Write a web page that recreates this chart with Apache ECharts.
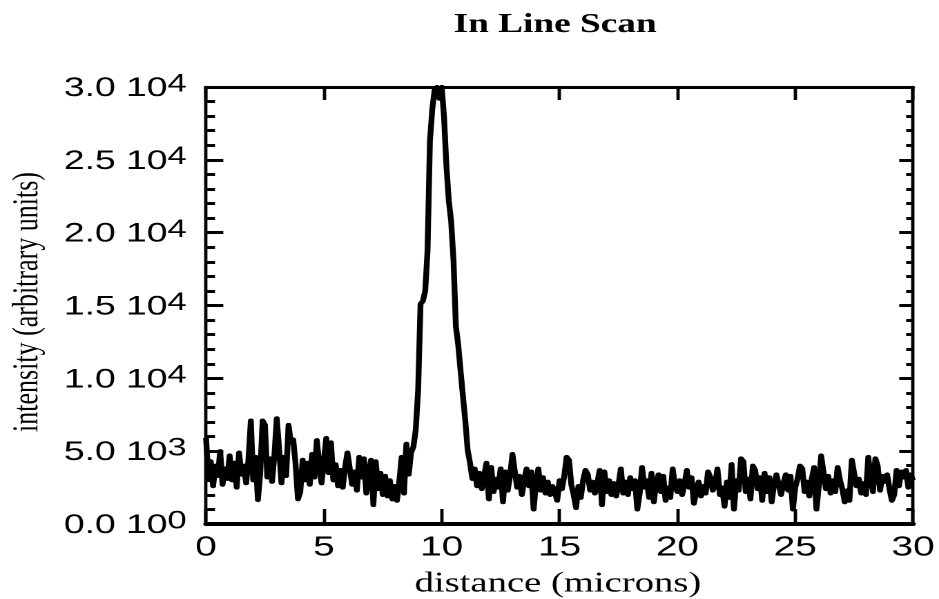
<!DOCTYPE html>
<html>
<head>
<meta charset="utf-8">
<title>In Line Scan</title>
<script src="https://cdn.jsdelivr.net/npm/echarts@6/dist/echarts.min.js"></script>
<style>
  html, body { margin: 0; padding: 0; background: #fff; overflow: hidden; }
  /* the original figure is stretched sideways, so the chart is drawn narrow and widened */
  #chart { width: 680px; height: 599px; transform: scaleX(1.3809); transform-origin: 0 0; }
</style>
</head>
<body>
<div id="chart"></div>
<script>
// sampling of the scan (microns)
const distanceStart = 0;
const distanceStep = 0.1;

// intensity, one value per 0.1 micron, 0 .. 30
const intensity = [
  5900, 3200, 4300, 2600, 4000, 3300, 5000, 2700, 3800, 3100,
  4700, 3000, 4200, 2500, 4900, 3400, 4000, 2800, 4400, 7100,
  3000, 4600, 1650, 3500, 7100, 6800, 3200, 4500, 2900, 4700,
  7250, 5200, 2800, 4600, 3300, 6800, 5600, 5800, 4100, 1700,
  2200, 4400, 3000, 4200, 2700, 4800, 3200, 5750, 4200, 2800,
  4300, 5900, 3500, 5600, 3000, 4100, 2600, 3700, 2500, 3900,
  4900, 4800, 2700, 3600, 2300, 4600, 3200, 4500, 2100, 3400,
  4400, 1300, 4300, 2400, 3500, 2000, 3300, 1900, 3000, 1700,
  2600, 1600, 2900, 4600, 2100, 5500, 3400, 4900, 5300, 6500,
  9200, 15100, 15300, 16000, 18800, 26300, 28500, 29800, 30000, 29200,
  30000, 27900, 24600, 22200, 20800, 18100, 13600, 12300, 10500, 8800,
  7100, 5100, 4200, 3100, 3800, 2600, 3500, 2400, 3300, 4200,
  1700, 3900, 2200, 3100, 2500, 3800, 1500, 3600, 2300, 3300,
  4800, 4900, 2500, 3300, 2000, 3000, 3800, 2600, 3600, 1000,
  2800, 3800, 2300, 3200, 2100, 2900, 2000, 2600, 2200, 1600,
  3000, 2400, 3300, 4600, 4400, 2700, 2000, 1100, 2600, 1800,
  3000, 3700, 3400, 2300, 2900, 2100, 2800, 3700, 1300, 3600,
  2200, 3000, 2000, 2800, 1900, 2700, 3800, 2100, 2900, 2000,
  3200, 2400, 3000, 1000, 2100, 3900, 2500, 3000, 1800, 3500,
  1500, 2800, 3400, 2200, 3300, 1600, 2500, 1800, 3800, 2600,
  2200, 3000, 2000, 2700, 3700, 2500, 3200, 1400, 2200, 2900,
  1900, 2600, 2100, 3600, 3200, 2300, 2700, 3800, 2000, 2500,
  1200, 2900, 1800, 4100, 1000, 3000, 2300, 4500, 4300, 2200,
  3100, 1700, 4000, 3700, 2400, 3200, 1600, 3500, 2200, 3200,
  1500, 2700, 3400, 3300, 2000, 2800, 3400, 2300, 3300, 1000,
  2500, 3100, 4000, 3800, 2200, 2900, 1900, 3100, 3900, 1000,
  2600, 4700, 4600, 2400, 3300, 2100, 3000, 2200, 3900, 3000,
  2400, 1500, 2300, 1600, 4400, 4300, 2600, 3100, 2100, 2800,
  2000, 4600, 3200, 2200, 4500, 4000, 2300, 3300, 2900, 3400,
  2400, 1600, 2000, 3700, 2600, 3600, 3200, 3700, 2500, 3400,
  3000
];

// y tick labels, written as mantissa and power of ten
const yMantissa = ['0.0', '5.0', '1.0', '1.5', '2.0', '2.5', '3.0'];
const yExponent = ['0', '3', '4', '4', '4', '4', '4'];

const titleText = 'In Line Scan';
const xName = 'distance (microns)';
const yName = 'intensity (arbitrary units)';

const points = intensity.map((v, i) => [+(distanceStart + i * distanceStep).toFixed(1), v]);

const black = '#000';
const sans = 'Liberation Sans';
const serif = 'Liberation Serif';

let myChart = echarts.init(document.getElementById('chart'), null, { devicePixelRatio: 2 });

let option = {
  backgroundColor: '#fff',
  animation: false,
  grid: { left: 149.2, right: 18.8, top: 87, bottom: 75 },
  graphic: [
    {
      type: 'text', x: 402, y: 25,
      style: { text: titleText, fontFamily: serif, fontWeight: 'bold', fontSize: 27, fill: black, align: 'center', verticalAlign: 'middle' }
    },
    {
      type: 'text', x: 404, y: 584,
      style: { text: xName, fontFamily: serif, fontSize: 28, fill: black, align: 'center', verticalAlign: 'middle' }
    },
    {
      type: 'text', x: 20, y: 302, rotation: Math.PI / 2,
      style: { text: yName, fontFamily: serif, fontSize: 26, fill: black, align: 'center', verticalAlign: 'middle' }
    }
  ],
  xAxis: [
    {
      type: 'value', min: 0, max: 30, interval: 5, position: 'bottom',
      axisLine: { show: true, onZero: false, lineStyle: { color: black, width: 4 } },
      axisTick: { inside: true, length: 15, lineStyle: { color: black, width: 2.4 } },
      axisLabel: { margin: 10, color: black, fontFamily: sans, fontSize: 28 },
      splitLine: { show: false }
    },
    {
      type: 'value', min: 0, max: 30, interval: 5, position: 'top',
      axisLine: { show: true, onZero: false, lineStyle: { color: black, width: 3 } },
      axisTick: { inside: true, length: 13, lineStyle: { color: black, width: 2.4 } },
      axisLabel: { show: false },
      splitLine: { show: false }
    }
  ],
  yAxis: [
    {
      type: 'value', min: 0, max: 30000, interval: 5000, position: 'left',
      axisLine: { show: true, onZero: false, lineStyle: { color: black, width: 2.4 } },
      axisTick: { inside: true, length: 12.5, lineStyle: { color: black, width: 3 } },
      minorTick: { show: true, splitNumber: 5, length: 6.5, lineStyle: { color: black, width: 3 } },
      axisLabel: {
        margin: 14,
        formatter: function (value) {
          let k = Math.round(value / 5000);
          return '{m|' + yMantissa[k] + ' 10}{e|' + yExponent[k] + '}';
        },
        rich: {
          m: { fontFamily: sans, fontSize: 27, color: black, lineHeight: 30, verticalAlign: 'bottom' },
          e: { fontFamily: sans, fontSize: 25, color: black, lineHeight: 14, verticalAlign: 'top' }
        }
      },
      splitLine: { show: false }
    },
    {
      type: 'value', min: 0, max: 30000, interval: 5000, position: 'right',
      axisLine: { show: true, onZero: false, lineStyle: { color: black, width: 2.4 } },
      axisTick: { inside: true, length: 10, lineStyle: { color: black, width: 3 } },
      minorTick: { show: true, splitNumber: 5, length: 5, lineStyle: { color: black, width: 3 } },
      axisLabel: { show: false },
      splitLine: { show: false }
    }
  ],
  series: [
    {
      name: 'intensity',
      type: 'line',
      xAxisIndex: 0,
      yAxisIndex: 0,
      data: points,
      showSymbol: false,
      symbol: 'none',
      lineStyle: { color: black, width: 4.2, join: 'round' }
    }
  ]
};

myChart.setOption(option);
</script>
</body>
</html>
